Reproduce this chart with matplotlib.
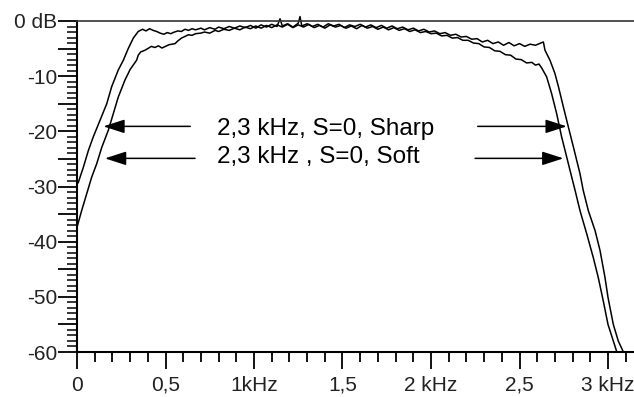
import matplotlib.pyplot as plt
from matplotlib.ticker import MultipleLocator, FixedLocator, FixedFormatter

plt.rcParams['font.family'] = ['Liberation Sans', 'DejaVu Sans']

# frequency response, sharp filter (kHz, dB)
sharp_f = [0.0, 0.007, 0.036, 0.064, 0.092, 0.13, 0.168, 0.196, 0.233, 0.262, 0.288, 0.318, 0.346,
           0.37, 0.39, 0.41, 0.43, 0.45, 0.47, 0.49, 0.51, 0.53, 0.55, 0.57, 0.59, 0.61, 0.63, 0.65,
           0.67, 0.70, 0.72, 0.75, 0.78, 0.80, 0.83, 0.86, 0.89, 0.92, 0.95, 0.98, 1.01, 1.04, 1.07,
           1.10, 1.13, 1.147, 1.16, 1.19, 1.22, 1.25, 1.26, 1.27, 1.30, 1.33, 1.36, 1.39, 1.42, 1.45,
           1.48, 1.51, 1.54, 1.57, 1.60, 1.63, 1.66, 1.69, 1.72, 1.75, 1.78, 1.81, 1.84, 1.87, 1.90,
           1.93, 1.96, 1.99, 2.02, 2.05, 2.08, 2.11, 2.14, 2.17, 2.20, 2.23, 2.26, 2.29, 2.32, 2.35,
           2.38, 2.41, 2.44, 2.47, 2.50, 2.53, 2.56, 2.59, 2.62, 2.635, 2.644, 2.672, 2.70, 2.72,
           2.748, 2.776, 2.805, 2.842, 2.86, 2.889, 2.927, 2.955, 2.983, 3.0, 3.03, 3.058, 3.087]
sharp_db = [-29.5, -29.3, -26.5, -23.5, -21.0, -18.0, -15.0, -11.9, -8.9, -7.1, -5.1, -3.1, -1.9,
            -1.5, -1.8, -1.4, -1.7, -1.9, -2.2, -2.4, -2.1, -2.3, -2.0, -1.8, -1.9, -1.5, -1.7, -1.4,
            -1.6, -1.3, -1.6, -1.2, -1.5, -1.1, -1.4, -1.0, -1.3, -0.9, -1.2, -0.8, -1.3, -0.7, -1.1,
            -0.6, -1.0, 0.4, -0.9, -0.5, -1.1, -0.4, 0.8, -0.9, -0.5, -1.0, -0.6, -1.1, -0.5, -0.9,
            -0.6, -1.2, -0.7, -1.0, -0.6, -1.1, -0.7, -1.2, -0.8, -1.3, -0.9, -1.4, -1.1, -1.6, -1.3,
            -1.8, -1.5, -2.0, -1.8, -2.3, -2.1, -2.6, -2.4, -2.9, -2.8, -3.3, -3.2, -3.8, -3.5, -4.1,
            -3.8, -4.4, -3.9, -4.5, -4.1, -4.6, -4.2, -4.4, -4.0, -3.8, -5.3, -7.1, -9.5, -11.9,
            -15.6, -19.2, -22.9, -27.7, -30.7, -34.4, -38.0, -41.6, -46.5, -50.1, -55.0, -58.0, -60.0]

# frequency response, soft filter (kHz, dB)
soft_f = [0.0, 0.026, 0.055, 0.083, 0.111, 0.14, 0.177, 0.205, 0.233, 0.271, 0.30, 0.337, 0.346,
          0.36, 0.384, 0.40, 0.42, 0.44, 0.46, 0.48, 0.50, 0.52, 0.554, 0.57, 0.59, 0.61, 0.629,
          0.65, 0.67, 0.70, 0.72, 0.75, 0.78, 0.80, 0.83, 0.86, 0.89, 0.92, 0.95, 0.98, 1.01, 1.04,
          1.07, 1.10, 1.13, 1.16, 1.19, 1.22, 1.25, 1.28, 1.31, 1.34, 1.37, 1.40, 1.43, 1.46, 1.49,
          1.52, 1.55, 1.58, 1.61, 1.64, 1.67, 1.70, 1.73, 1.76, 1.79, 1.82, 1.85, 1.88, 1.91, 1.94,
          1.97, 2.00, 2.03, 2.06, 2.09, 2.12, 2.15, 2.18, 2.21, 2.24, 2.27, 2.30, 2.33, 2.36, 2.39,
          2.42, 2.45, 2.48, 2.51, 2.54, 2.57, 2.59, 2.61, 2.625, 2.653, 2.681, 2.71, 2.738, 2.767,
          2.795, 2.814, 2.842, 2.88, 2.917, 2.945, 2.973, 3.0, 3.03, 3.05]
soft_db = [-37.4, -34.4, -31.3, -28.3, -25.9, -22.9, -19.8, -16.8, -13.8, -10.7, -8.8, -7.1, -6.2,
           -5.6, -5.3, -5.0, -4.6, -4.8, -4.5, -4.9, -4.6, -4.3, -4.1, -3.6, -3.1, -2.8, -2.5,
           -2.6, -2.3, -2.2, -2.0, -2.2, -1.7, -1.9, -1.5, -1.7, -1.3, -1.6, -1.1, -1.4, -0.9, -1.3,
           -0.8, -1.2, -0.7, -1.1, -0.6, -1.2, -0.7, -1.1, -0.6, -1.2, -0.8, -1.3, -0.7, -1.1, -0.8,
           -1.3, -0.9, -1.4, -0.8, -1.3, -1.0, -1.5, -1.1, -1.6, -1.2, -1.7, -1.4, -1.9, -1.6, -2.1,
           -1.9, -2.3, -2.2, -2.7, -2.6, -3.1, -3.0, -3.5, -3.5, -4.0, -4.1, -4.7, -4.8, -5.4, -5.5,
           -6.1, -6.2, -6.9, -7.0, -7.6, -7.5, -8.0, -7.8, -8.5, -10.1, -13.1, -16.8, -21.0, -24.7,
           -28.3, -30.7, -34.4, -38.6, -42.9, -46.5, -50.7, -55.0, -58.0, -60.0]

x_ticks = [0, 0.5, 1.0, 1.5, 2.0, 2.5, 3.0]
x_labels = ['0', '0,5', '1kHz', '1,5', '2 kHz', '2,5', '3 kHz']
y_ticks = [0, -5, -10, -15, -20, -25, -30, -35, -40, -45, -50, -55, -60]
y_labels = ['0 dB', '', '-10', '', '-20', '', '-30', '', '-40', '', '-50', '', '-60']

labels = ['2,3 kHz, S=0, Sharp', '2,3 kHz , S=0, Soft']
label_y = [-20.7, -25.7]
arrow_y = [-19.1, -24.9]
arrow_left = [(0.64, 0.149), (0.667, 0.158)]
arrow_right = [(2.264, 2.767), (2.249, 2.748)]

fig = plt.figure(figsize=(6.34, 3.97), dpi=100)
ax = fig.add_axes([77 / 634, 45 / 397, 557 / 634, 331 / 397])

ax.plot(sharp_f, sharp_db, color='black', lw=1.1, clip_on=False)
ax.plot(soft_f, soft_db, color='black', lw=1.1, clip_on=False)

for txt, ty in zip(labels, label_y):
    ax.text(0.79, ty, txt, fontsize=17.5, color='black', va='baseline', ha='left')

style = '-|>,head_length=13,head_width=4.2'
for (x0, x1), (x2, x3), ay in zip(arrow_left, arrow_right, arrow_y):
    for start, tip in [(x0, x1), (x2, x3)]:
        ax.annotate('', xy=(tip, ay), xytext=(start, ay),
                    arrowprops=dict(arrowstyle=style, mutation_scale=1, color='black',
                                    lw=1.1, shrinkA=0, shrinkB=0))

ax.set_xlim(0, 557 / 177)
ax.set_ylim(-60, 0)

ax.spines['right'].set_visible(False)
ax.spines['left'].set_linewidth(1.5)
ax.spines['bottom'].set_linewidth(1.5)
ax.spines['top'].set_linewidth(1.2)
ax.spines['top'].set_color('#333333')

ax.xaxis.set_major_locator(FixedLocator(x_ticks))
ax.xaxis.set_major_formatter(FixedFormatter(x_labels))
ax.xaxis.set_minor_locator(MultipleLocator(0.1))
ax.yaxis.set_major_locator(FixedLocator(y_ticks))
ax.yaxis.set_major_formatter(FixedFormatter(y_labels))
ax.yaxis.set_minor_locator(MultipleLocator(1))

ax.tick_params(axis='x', which='major', length=12, width=1.3, pad=5, labelsize=15,
               labelcolor='#222222', direction='out')
ax.tick_params(axis='x', which='minor', length=7, width=1.3, direction='out')
ax.tick_params(axis='y', which='major', length=13.5, width=1.3, pad=0.5, labelsize=15,
               labelcolor='#222222', direction='out')
ax.tick_params(axis='y', which='minor', length=7, width=1.1, direction='out')

fig.savefig('out.png', dpi=100)
